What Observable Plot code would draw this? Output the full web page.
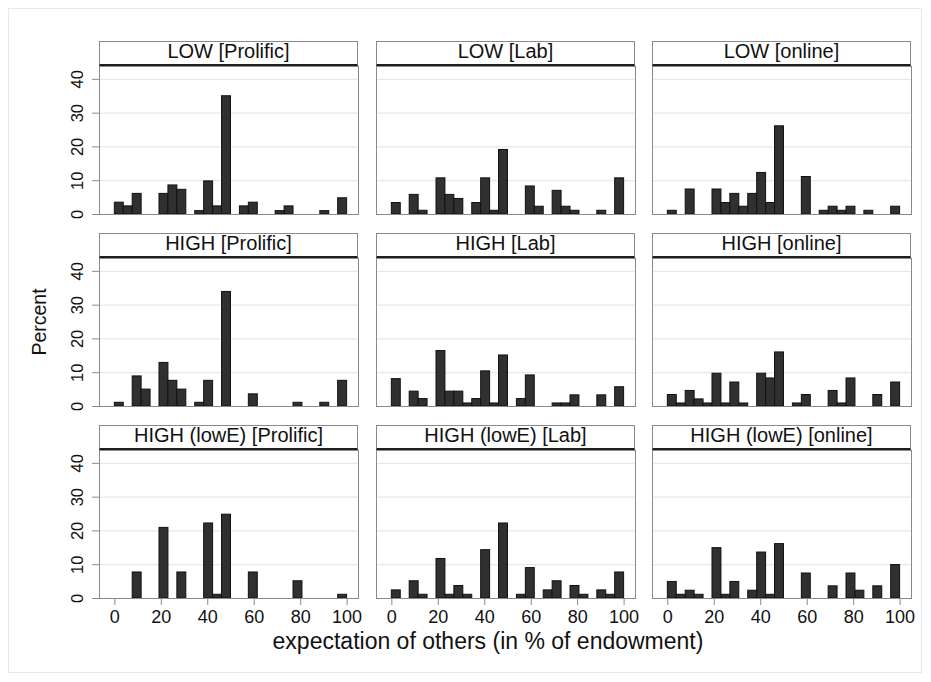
<!DOCTYPE html>
<html>
<head>
<meta charset="utf-8">
<script src="https://cdn.jsdelivr.net/npm/d3@7"></script>
<script src="https://cdn.jsdelivr.net/npm/@observablehq/plot@0.6"></script>
<style>
  html, body { margin: 0; padding: 0; background: #fff; }
  #root { position: relative; width: 931px; height: 682px; overflow: hidden; font-family: "Liberation Sans", Arial, Helvetica, sans-serif; color: #111; }
  .panel { position: absolute; }
  .panel svg { max-width: none !important; display: block; }
  .strip { position: absolute; box-sizing: border-box; background: #fff; border: 1px solid #8a8a8a; border-bottom: 2px solid #1e1e1e; text-align: center; font-size: 20px; line-height: 19.5px; white-space: nowrap; color: #111; }
  .panel g[aria-label="x-axis tick"], .panel g[aria-label="y-axis tick"] { stroke: #8a8a8a; }
  .panel g[aria-label="x-axis"] line, .panel g[aria-label="y-axis"] line { stroke: #8a8a8a; }
  .outer { position: absolute; left: 8px; top: 8px; width: 914px; height: 665px; border: 1px solid #e3e9ed; box-sizing: border-box; }
</style>
</head>
<body>
<div id="root"><div class="outer"></div></div>
<script>
// ---- data (percent per histogram bin; 26 bins spanning 0–100) ----
const binCount = 26;
const treatments = ["LOW", "HIGH", "HIGH (lowE)"];
const sources = ["Prolific", "Lab", "online"];
const xTickValues = [0, 20, 40, 60, 80, 100];
const yTickValues = [0, 10, 20, 30, 40];
const gridValues = [10, 20, 30, 40];

const lowProlificBins = [0, 1, 2, 5, 6, 7, 9, 10, 11, 12, 14, 15, 18, 19, 23, 25];
const lowProlificPct  = [3.5, 2.4, 6.1, 6.1, 8.6, 7.3, 1.0, 9.8, 2.4, 35.0, 2.4, 3.5, 1.0, 2.4, 1.0, 4.8];

const lowLabBins = [0, 2, 3, 5, 6, 7, 9, 10, 11, 12, 15, 16, 18, 19, 20, 23, 25];
const lowLabPct  = [3.4, 5.8, 1.1, 10.7, 5.8, 4.6, 3.4, 10.7, 1.1, 19.1, 8.3, 2.3, 7.0, 2.3, 1.1, 1.1, 10.7];

const lowOnlineBins = [0, 2, 5, 6, 7, 8, 9, 10, 11, 12, 15, 17, 18, 19, 20, 22, 25];
const lowOnlinePct  = [1.1, 7.4, 7.4, 3.4, 6.1, 2.3, 6.1, 12.3, 3.4, 26.1, 11.1, 1.1, 2.3, 1.1, 2.3, 1.1, 2.3];

const highProlificBins = [0, 2, 3, 5, 6, 7, 9, 10, 12, 15, 20, 23, 25];
const highProlificPct  = [1.1, 8.9, 5.0, 12.9, 7.6, 5.0, 1.1, 7.6, 33.9, 3.6, 1.1, 1.1, 7.6];

const highLabBins = [0, 2, 3, 5, 6, 7, 8, 9, 10, 11, 12, 14, 15, 18, 19, 20, 23, 25];
const highLabPct  = [8.1, 4.4, 2.2, 16.4, 4.4, 4.4, 0.9, 2.2, 10.4, 0.9, 15.1, 2.2, 9.2, 0.9, 0.9, 3.3, 3.3, 5.7];

const highOnlineBins = [0, 1, 2, 3, 4, 5, 6, 7, 8, 10, 11, 12, 14, 15, 18, 19, 20, 23, 25];
const highOnlinePct  = [3.4, 0.9, 4.6, 2.1, 0.9, 9.7, 0.9, 7.1, 0.9, 9.7, 8.3, 16.0, 0.9, 3.4, 4.6, 0.9, 8.3, 3.4, 7.1];

const lowEProlificBins = [2, 5, 7, 10, 11, 12, 15, 20, 25];
const lowEProlificPct  = [7.7, 20.9, 7.7, 22.2, 1.1, 24.8, 7.7, 5.1, 1.1];

const lowELabBins = [0, 2, 3, 5, 6, 7, 8, 10, 12, 14, 15, 17, 18, 20, 21, 23, 24, 25];
const lowELabPct  = [2.4, 5.1, 1.1, 11.7, 1.1, 3.7, 1.1, 14.3, 22.2, 1.1, 9.0, 2.4, 5.1, 3.7, 1.1, 2.4, 1.1, 7.7];

const lowEOnlineBins = [0, 1, 2, 3, 5, 6, 7, 9, 10, 11, 12, 15, 18, 20, 21, 23, 25];
const lowEOnlinePct  = [4.9, 1.1, 2.3, 1.1, 14.9, 1.1, 4.9, 2.3, 13.6, 1.1, 16.1, 7.4, 3.6, 7.4, 2.3, 3.6, 9.9];

const panelBins = [
  [lowProlificBins, lowLabBins, lowOnlineBins],
  [highProlificBins, highLabBins, highOnlineBins],
  [lowEProlificBins, lowELabBins, lowEOnlineBins]
];
const panelPct = [
  [lowProlificPct, lowLabPct, lowOnlinePct],
  [highProlificPct, highLabPct, highOnlinePct],
  [lowEProlificPct, lowELabPct, lowEOnlinePct]
];

// ---- layout ----
const colLeft = [99, 376, 652];
const rowTop = [65.5, 257.5, 449.5];
const plotW = 259, plotH = 148, stripH = 25, M = 40;
const xDomain = [-6.6, 104.9];
const yDomain = [0, 43.8];
const binWidth = 100 / binCount;

const root = document.getElementById("root");

for (let r = 0; r < 3; r++) {
  for (let c = 0; c < 3; c++) {
    const data = panelBins[r][c].map((b, i) => ({x1: b * binWidth, x2: (b + 1) * binWidth, pct: panelPct[r][c][i]}));
    const marks = [
      Plot.ruleY(gridValues, {stroke: "#e1e9ee", strokeWidth: 1.3}),
      Plot.rect(data, {x1: "x1", x2: "x2", y1: 0, y2: "pct", fill: "#303030", stroke: "#111", strokeWidth: 1}),
      Plot.frame({stroke: "#8a8a8a"})
    ];
    if (c === 0) {
      marks.push(Plot.text(yTickValues, {y: d => d, text: d => String(d), frameAnchor: "left", dx: -21.5, rotate: -90, textAnchor: "middle", lineAnchor: "middle", fontSize: 16.5, fill: "#111"}));
    }
    const chart = Plot.plot({
      width: plotW + 2 * M,
      height: plotH + 2 * M,
      marginLeft: M, marginRight: M, marginTop: M, marginBottom: M,
      style: {background: "transparent", overflow: "visible", maxWidth: "none", fontFamily: "Liberation Sans, Arial, Helvetica, sans-serif", fontSize: "18px", color: "#111"},
      x: {domain: xDomain, axis: r === 2 ? "bottom" : null, ticks: xTickValues, tickSize: 7, tickPadding: 5, label: null},
      y: {domain: yDomain, axis: c === 0 ? "left" : null, ticks: yTickValues, tickSize: 7, tickFormat: () => "", label: null},
      marks
    });
    const div = document.createElement("div");
    div.className = "panel";
    div.style.left = (colLeft[c] - M) + "px";
    div.style.top = (rowTop[r] - M) + "px";
    div.style.width = (plotW + 2 * M) + "px";
    div.style.height = (plotH + 2 * M) + "px";
    div.appendChild(chart);
    root.appendChild(div);
  }
}

for (let r = 0; r < 3; r++) {
  for (let c = 0; c < 3; c++) {
    const s = document.createElement("div");
    s.className = "strip";
    s.style.left = colLeft[c] + "px";
    s.style.top = (rowTop[r] - stripH) + "px";
    s.style.width = plotW + "px";
    s.style.height = stripH + "px";
    s.textContent = `${treatments[r]} [${sources[c]}]`;
    root.appendChild(s);
  }
}

const yTitle = document.createElement("div");
yTitle.textContent = "Percent";
Object.assign(yTitle.style, {position: "absolute", left: "40px", top: "322px", transform: "translate(-50%, -50%) rotate(-90deg)", fontSize: "19.5px", whiteSpace: "nowrap", lineHeight: "19.5px"});
root.appendChild(yTitle);

const xTitle = document.createElement("div");
xTitle.textContent = "expectation of others (in % of endowment)";
Object.assign(xTitle.style, {position: "absolute", left: "488px", top: "630px", transform: "translateX(-50%)", fontSize: "23px", whiteSpace: "nowrap", lineHeight: "23px"});
root.appendChild(xTitle);
</script>
</body>
</html>
